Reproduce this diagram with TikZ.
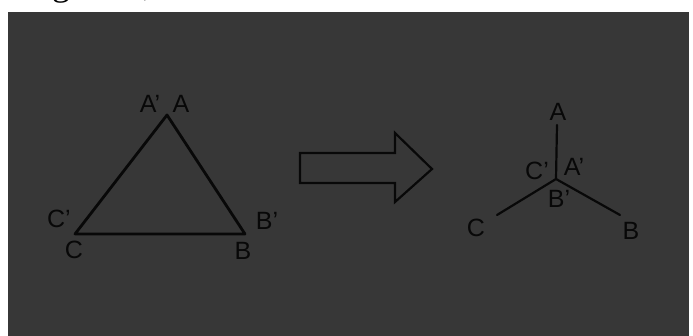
\documentclass[tikz,border=0pt]{standalone}
\usepackage{fontspec}
\setmainfont{Liberation Sans}
\newfontfamily\capfont{Liberation Serif}
\usetikzlibrary{positioning}
\definecolor{slate}{HTML}{373737}
\definecolor{ink}{HTML}{080808}

\begin{document}
\begin{tikzpicture}[x=1pt,y=-1pt,
    lbl/.style={inner sep=0pt,text=ink,font=\fontsize{25}{25}\selectfont},
    edge/.style={draw=ink,line width=2.8pt,line join=round,line cap=round}]
  \useasboundingbox[fill=white] (0,0) rectangle (693,336);
  \begin{scope}
    \clip (0,0) rectangle (693,336);
    \node[anchor=base west,inner sep=0pt,font=\capfont\fontsize{36}{36}\selectfont] (cap) at (22,-4) {Figure 1,};
  \end{scope}
  \fill[slate] (8,12) rectangle (689,336);
  % before: the triangle
  \coordinate (tA) at (167,115);
  \coordinate (tB) at (245,234);
  \coordinate (tC) at (75,234);
  \draw[edge] (tA) -- (tB) -- (tC) -- cycle;
  \node[lbl] (tAp) at (150,104) {A'};
  \node[lbl,right=12pt of tAp] (tAl) {A};
  \node[lbl] (tCp) at (59,219) {C'};
  \node[lbl] (tCl) at (74,250) {C};
  \node[lbl] (tBp) at (267,221) {B'};
  \node[lbl] (tBl) at (243,251) {B};
  % the arrow
  \draw[draw=ink,line width=2.2pt,line join=miter]
    (300,153) -- (395,153) -- (395,133) -- (432,169) -- (395,202)
    -- (395,183) -- (300,183) -- cycle;
  % after: the star
  \coordinate (sO) at (556,179);
  \coordinate (sA) at (557,125);
  \coordinate (sB) at (620,215);
  \coordinate (sC) at (497,215);
  \draw[edge,line width=2.2pt] (sA) -- (sO) -- (sB) (sO) -- (sC);
  \node[lbl] (sAl) at (558,112) {A};
  \node[lbl] (sAp) at (574,167) {A'};
  \node[lbl] (sCp) at (537,171) {C'};
  \node[lbl] (sBp) at (559,199) {B'};
  \node[lbl] (sCl) at (476,228) {C};
  \node[lbl] (sBl) at (631,231) {B};
\end{tikzpicture}
\end{document}
